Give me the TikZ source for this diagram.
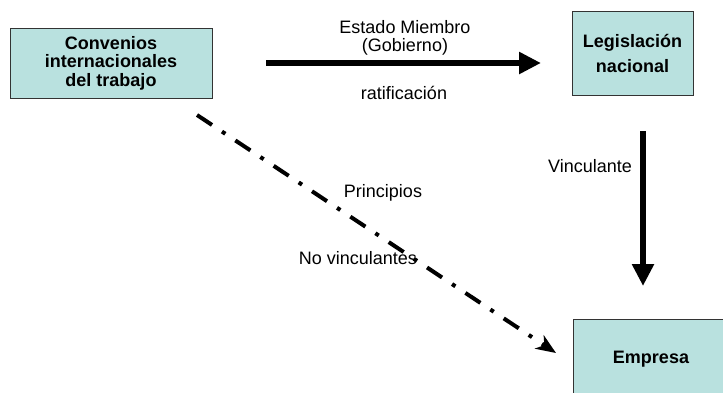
\documentclass[tikz,border=0pt]{standalone}
\usepackage{fontspec}
\setmainfont{Liberation Sans}
\usetikzlibrary{arrows.meta}
\definecolor{boxfill}{HTML}{B9E1DF}
\definecolor{boxline}{HTML}{333333}
\tikzset{
  box/.style={draw=boxline, line width=1pt, fill=boxfill, align=center,
    font=\fontsize{18}{18.5}\selectfont\bfseries, inner sep=0pt},
  lbl/.style={font=\fontsize{18}{18}\selectfont, align=center, inner sep=0pt},
  bigarrow/.style={line width=6.5pt, -{Triangle[length=22pt,width=21pt]}},
  dasharrow/.style={line width=4pt, dash pattern=on 18pt off 12pt on 4pt off 12pt,
    -{Stealth[length=20pt,width=16pt,inset=6pt]}}
}
\begin{document}
\begin{tikzpicture}[x=1pt,y=-1pt]
\useasboundingbox (0,0) rectangle (723,392);
\fill[white] (0,0) rectangle (723,392);
\node[box, minimum width=202pt, minimum height=70pt] (conv) at (111,63)
  {Convenios\\internacionales\\del trabajo};
\node[box, minimum width=121pt, minimum height=84pt, font=\fontsize{18}{25}\selectfont\bfseries] (leg) at (632.5,53)
  {Legislación\\nacional};
\node[box, minimum width=160pt, minimum height=82pt, anchor=north west] (emp) at (573,319) {};
\node[font=\fontsize{18}{18}\selectfont\bfseries, inner sep=0pt] (emptxt) at (651,359) {Empresa};

\coordinate (h1) at (266,63);
\coordinate (h2) at (541,63);
\coordinate (v1) at (643,131);
\coordinate (v2) at (643,286);
\coordinate (d1) at (197,115);
\coordinate (d2) at (556,353);

\draw[bigarrow] (h1) -- (h2);
\draw[bigarrow] (v1) -- (v2);
\draw[dasharrow] (d1) -- (d2);

\node[lbl] (estado) at (405,38) {Estado Miembro\\(Gobierno)};
\node[lbl] (ratif) at (404,93) {ratificación};
\node[lbl] (vinc) at (590,166) {Vinculante};
\node[lbl] (princ) at (383,193) {Principios};
\node[lbl] (novinc) at (358,258) {No vinculantes};
\end{tikzpicture}
\end{document}
